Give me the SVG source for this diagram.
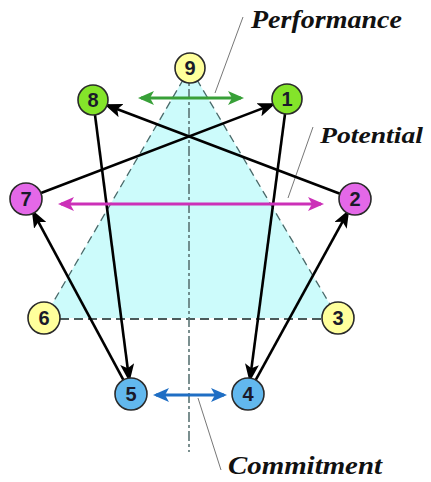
<svg xmlns="http://www.w3.org/2000/svg" width="431" height="482" viewBox="0 0 431 482">
<style>
.node circle{stroke:#2a2a2a;stroke-width:1.6}
.node text{font-family:"Liberation Sans",Arial,sans-serif;font-weight:bold;font-size:20px;text-anchor:middle;fill:#1a1a2a}
.yel{fill:#ffff9c}
.grn{fill:#84e42a}
.mag{fill:#e468e8}
.blu{fill:#62b8ee}
.blk{stroke:#000;stroke-width:2.6;fill:none;marker-end:url(#ah)}
.lbl{font-family:"Liberation Serif","Times New Roman",serif;font-style:italic;font-weight:bold;fill:#111}
.lead{stroke:#777;stroke-width:1;fill:none}
</style>
<defs>
<marker id="ah" viewBox="0 0 18 14" markerUnits="userSpaceOnUse" markerWidth="18" markerHeight="14" refX="15" refY="7" orient="auto"><path d="M0,0 L18,7 L0,14 L4,7 z" fill="#000"/></marker>
<marker id="ag" viewBox="0 0 16 14" markerUnits="userSpaceOnUse" markerWidth="16" markerHeight="14" refX="13" refY="7" orient="auto-start-reverse"><path d="M0,0 L16,7 L0,14 L4,7 z" fill="#38a038"/></marker>
<marker id="am" viewBox="0 0 16 14" markerUnits="userSpaceOnUse" markerWidth="16" markerHeight="14" refX="13" refY="7" orient="auto-start-reverse"><path d="M0,0 L16,7 L0,14 L4,7 z" fill="#cc30b8"/></marker>
<marker id="ab" viewBox="0 0 16 14" markerUnits="userSpaceOnUse" markerWidth="16" markerHeight="14" refX="13" refY="7" orient="auto-start-reverse"><path d="M0,0 L16,7 L0,14 L4,7 z" fill="#1f6ec4"/></marker>
</defs>
<g id="triangle">
<polygon points="190,68 44,318 338,318" fill="#ccfbfb"/>
<line x1="190" y1="68" x2="44" y2="318" stroke="#4a6a6a" stroke-width="1.3" stroke-dasharray="8,5"/>
<line x1="190" y1="68" x2="338" y2="318" stroke="#4a6a6a" stroke-width="1.3" stroke-dasharray="8,5"/>
<line x1="60" y1="319" x2="322" y2="319" stroke="#4a5a5a" stroke-width="2" stroke-dasharray="9,5"/>
</g>
<g id="axis">
<line x1="189" y1="70" x2="189" y2="452" stroke="#5a7474" stroke-width="1.6" stroke-dasharray="10,3,3,3"/>
</g>
<g id="leaders">
<line class="lead" x1="243" y1="17" x2="215" y2="93"/>
<line class="lead" x1="313" y1="127" x2="288" y2="198"/>
<line class="lead" x1="198" y1="398" x2="221" y2="470"/>
</g>
<g id="connectors">
<line class="blk" x1="41" y1="193" x2="273" y2="104.4"/>
<line class="blk" x1="340" y1="193.7" x2="107" y2="105.3"/>
<line class="blk" x1="95" y1="115" x2="129.1" y2="379.1"/>
<line class="blk" x1="285" y1="114" x2="250" y2="379.1"/>
<line class="blk" x1="123.9" y1="380.8" x2="33.1" y2="212.2"/>
<line class="blk" x1="255.2" y1="380.8" x2="347.8" y2="212.2"/>
<line x1="141" y1="98" x2="241" y2="98" stroke="#38a038" stroke-width="3" marker-start="url(#ag)" marker-end="url(#ag)"/>
<line x1="61" y1="204" x2="321" y2="204" stroke="#cc30b8" stroke-width="3" marker-start="url(#am)" marker-end="url(#am)"/>
<line x1="156" y1="395" x2="224" y2="395" stroke="#1f6ec4" stroke-width="3" marker-start="url(#ab)" marker-end="url(#ab)"/>
</g>
<g id="n9" class="node"><circle class="yel" cx="190" cy="68" r="15"/><text x="190" y="75">9</text></g>
<g id="n8" class="node"><circle class="grn" cx="93" cy="100" r="15"/><text x="93" y="107">8</text></g>
<g id="n1" class="node"><circle class="grn" cx="287" cy="99" r="15"/><text x="287" y="106">1</text></g>
<g id="n7" class="node"><circle class="mag" cx="26" cy="199" r="16"/><text x="26" y="206">7</text></g>
<g id="n2" class="node"><circle class="mag" cx="355" cy="199" r="16"/><text x="355" y="206">2</text></g>
<g id="n6" class="node"><circle class="yel" cx="44" cy="318" r="16"/><text x="44" y="325">6</text></g>
<g id="n3" class="node"><circle class="yel" cx="338" cy="318" r="16"/><text x="338" y="325">3</text></g>
<g id="n5" class="node"><circle class="blu" cx="131" cy="394" r="16"/><text x="131" y="401">5</text></g>
<g id="n4" class="node"><circle class="blu" cx="248" cy="394" r="16"/><text x="248" y="401">4</text></g>
<g id="labels">
<text class="lbl" x="251" y="28" font-size="25" textLength="151" lengthAdjust="spacingAndGlyphs">Performance</text>
<text class="lbl" x="320" y="143" font-size="24" textLength="103" lengthAdjust="spacingAndGlyphs">Potential</text>
<text class="lbl" x="228" y="474" font-size="26" textLength="154" lengthAdjust="spacingAndGlyphs">Commitment</text>
</g>
</svg>
